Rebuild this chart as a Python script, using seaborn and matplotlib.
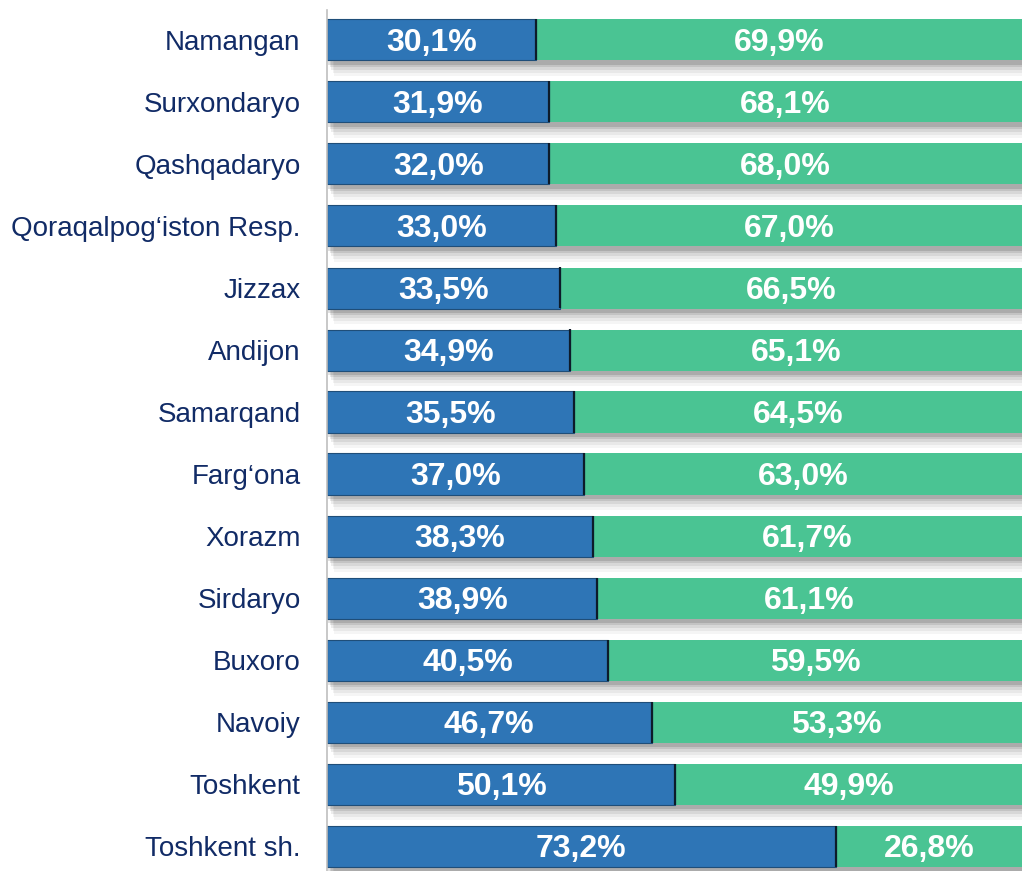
import matplotlib
matplotlib.use("Agg")
import matplotlib.pyplot as plt
import matplotlib.patheffects as pe
import seaborn as sns
import pandas as pd

regions = ["Namangan", "Surxondaryo", "Qashqadaryo", "Qoraqalpog‘iston Resp.", "Jizzax",
           "Andijon", "Samarqand", "Farg‘ona", "Xorazm", "Sirdaryo", "Buxoro", "Navoiy",
           "Toshkent", "Toshkent sh."]
share_a = [30.1, 31.9, 32.0, 33.0, 33.5, 34.9, 35.5, 37.0, 38.3, 38.9, 40.5, 46.7, 50.1, 73.2]
share_b = [69.9, 68.1, 68.0, 67.0, 66.5, 65.1, 64.5, 63.0, 61.7, 61.1, 59.5, 53.3, 49.9, 26.8]

df = pd.DataFrame({"region": regions, "a": share_a, "b": share_b})
df["total"] = df["a"] + df["b"]

sns.set_theme(style="white")
plt.rcParams['font.family'] = ['Liberation Sans', 'DejaVu Sans']

fig = plt.figure(figsize=(10.22, 8.71), dpi=100)
ax = fig.add_axes([327 / 1022, 0.0, 1 - 327 / 1022, 861 / 871])

blue = "#2E75B6"
green = "#4AC493"

shadow = [pe.SimplePatchShadow(offset=(5, -11), shadow_rgbFace="#000000", alpha=0.04),
          pe.SimplePatchShadow(offset=(4, -9), shadow_rgbFace="#000000", alpha=0.05),
          pe.SimplePatchShadow(offset=(3, -7), shadow_rgbFace="#000000", alpha=0.07),
          pe.SimplePatchShadow(offset=(2, -5), shadow_rgbFace="#000000", alpha=0.09),
          pe.SimplePatchShadow(offset=(1, -3), shadow_rgbFace="#000000", alpha=0.12),
          pe.Normal()]

bw = 41 / 62
sns.barplot(data=df, y="region", x="total", orient="h", color=green, width=bw,
            saturation=1, ax=ax, edgecolor=green, linewidth=0)
for p in ax.patches:
    p.set_path_effects(shadow)
n_green = len(ax.patches)
sns.barplot(data=df, y="region", x="a", orient="h", color=blue, width=bw,
            saturation=1, ax=ax, edgecolor="#1F4E79", linewidth=0.8)
for p in ax.patches[n_green:]:
    p.set_path_effects([pe.Normal()])
    x1 = p.get_x() + p.get_width()
    y0 = p.get_y()
    ax.plot([x1, x1], [y0, y0 + p.get_height()], color="#0d1b2a", lw=1.6, zorder=5,
            solid_capstyle="butt")

dy = 0.05
for i, (a, b) in enumerate(zip(share_a, share_b)):
    ax.text(a / 2, i + dy, f"{a:.1f}%".replace(".", ","), ha="center", va="center",
            color="white", fontsize=23, fontweight="bold", zorder=6)
    ax.text(a + b / 2, i + dy, f"{b:.1f}%".replace(".", ","), ha="center", va="center",
            color="white", fontsize=23, fontweight="bold", zorder=6)

ax.set_xlim(0, 100)
ax.set_ylim(13 + 25 / 62, -30 / 62)
ax.set_xlabel("")
ax.set_ylabel("")
ax.set_xticks([])
ax.tick_params(axis="y", length=0, pad=19, labelsize=20, labelcolor="#112B66")
for s in ["top", "right", "bottom"]:
    ax.spines[s].set_visible(False)
ax.spines["left"].set_color("#BFBFBF")
ax.spines["left"].set_linewidth(1.2)

fig.savefig("out.png", dpi=100)
